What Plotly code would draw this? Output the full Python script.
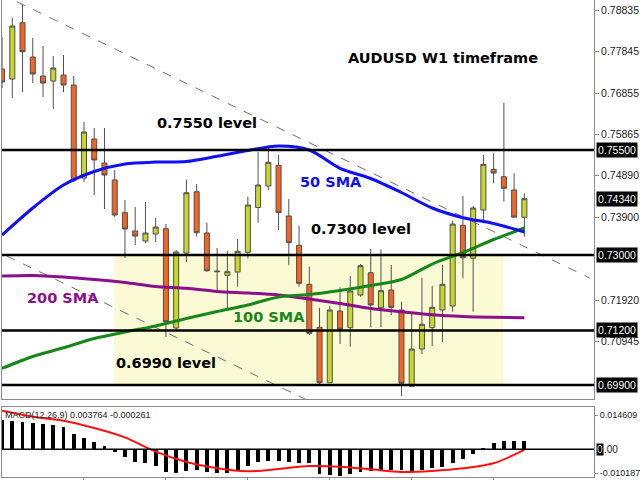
import plotly.graph_objects as go

# ---------------- data ----------------
candle_idx = list(range(52))
candle_open = [0.77430, 0.77192, 0.78534, 0.77716, 0.77264, 0.77144, 0.77287, 0.77049, 0.74833, 0.75762,
               0.75190, 0.74785, 0.74006, 0.73570, 0.73331, 0.73498, 0.73624, 0.71258, 0.73045, 0.74506,
               0.73522, 0.72616, 0.72514, 0.72592, 0.73062, 0.74130, 0.74642, 0.75135, 0.73927, 0.73229,
               0.72299, 0.71275, 0.69954, 0.71663, 0.71265, 0.72044, 0.72576, 0.71742, 0.72164, 0.71687,
               0.69869, 0.70757, 0.71265, 0.71687, 0.71782, 0.73705, 0.72919, 0.74070, 0.75040, 0.74864,
               0.74547, 0.73896]
candle_high = [0.78193, 0.78646, 0.78956, 0.78169, 0.77979, 0.77740, 0.77764, 0.77264, 0.76167, 0.76024,
               0.76024, 0.75023, 0.74308, 0.74142, 0.74261, 0.73879, 0.73736, 0.73117, 0.74785, 0.74690,
               0.73767, 0.73164, 0.73093, 0.73379, 0.74387, 0.75459, 0.75548, 0.75381, 0.74332, 0.73696,
               0.72719, 0.71735, 0.71782, 0.72228, 0.72497, 0.72783, 0.73141, 0.73133, 0.72759, 0.71885,
               0.71615, 0.72450, 0.72259, 0.72759, 0.73815, 0.74404, 0.74165, 0.75381, 0.75421, 0.76627,
               0.74945, 0.74468]
candle_low = [0.76978, 0.76739, 0.76882, 0.77097, 0.76763, 0.76477, 0.76882, 0.74737, 0.74737, 0.74428,
              0.74094, 0.73903, 0.72926, 0.73236, 0.73284, 0.73307, 0.71043, 0.71210, 0.72831, 0.73434,
              0.72600, 0.72123, 0.71687, 0.72242, 0.72919, 0.73767, 0.74547, 0.73593, 0.72759, 0.72242,
              0.71091, 0.69900, 0.69947, 0.70877, 0.70812, 0.72004, 0.71275, 0.71275, 0.71568, 0.69637,
              0.69859, 0.70638, 0.70829, 0.70924, 0.71646, 0.72442, 0.71646, 0.73753, 0.74706, 0.74268,
              0.73896, 0.73434]
candle_close = [0.77121, 0.78455, 0.77843, 0.77311, 0.77097, 0.77454, 0.77049, 0.74785, 0.75929, 0.75262,
                0.74904, 0.73951, 0.73617, 0.73450, 0.73522, 0.73665, 0.71408, 0.73069, 0.74482, 0.73529,
                0.72623, 0.72602, 0.72600, 0.73086, 0.74189, 0.74666, 0.75207, 0.74006, 0.73291, 0.72323,
                0.71132, 0.69954, 0.71687, 0.71227, 0.72140, 0.72743, 0.71806, 0.72147, 0.71751, 0.69940,
                0.70757, 0.71346, 0.71751, 0.72299, 0.73736, 0.72933, 0.74118, 0.75159, 0.74952, 0.74587,
                0.73900, 0.74340]

ma_idx = [0, 3, 6, 9, 12, 15, 18, 21, 24, 27, 30, 33, 36, 39, 42, 45, 48, 51]
sma50 = [0.73474, 0.74118, 0.74666, 0.74988, 0.75166, 0.75214, 0.75226, 0.75352, 0.75488, 0.75595,
         0.75500, 0.75064, 0.74821, 0.74487, 0.74118, 0.73887, 0.73748, 0.73546]
sma100 = [0.70297, 0.70579, 0.70786, 0.71008, 0.71163, 0.71306, 0.71484, 0.71651, 0.71806, 0.71997,
          0.72056, 0.72152, 0.72271, 0.72414, 0.72783, 0.73057, 0.73367, 0.73641]
sma200 = [0.72497, 0.72509, 0.72473, 0.72414, 0.72342, 0.72247, 0.72204, 0.72128, 0.72092, 0.72044,
          0.71949, 0.71842, 0.71723, 0.71646, 0.71573, 0.71532, 0.71513, 0.71503]

macd_hist = [0.01260, 0.01232, 0.01189, 0.01117, 0.01088, 0.01045, 0.00945, 0.00644, 0.00501, 0.00329,
             0.00143, -0.00100, -0.00315, -0.00530, -0.00601, -0.00702, -0.00959, -0.01002, -0.00916, -0.00888,
             -0.00959, -0.01002, -0.01031, -0.00916, -0.00716, -0.00530, -0.00487, -0.00487, -0.00530, -0.00601,
             -0.00601, -0.01060, -0.01103, -0.01146, -0.01060, -0.00959, -0.00916, -0.00931, -0.00888, -0.00888,
             -0.00916, -0.00888, -0.00816, -0.00745, -0.00573, -0.00430, -0.00200, 0.00072, 0.00258, 0.00372,
             0.00372, 0.003764]
macd_signal = [0.01661, 0.01403, 0.01232, 0.00916, 0.00516, -0.00100, -0.00544, -0.00816, -0.00945, -0.00845,
               -0.00716, -0.00745, -0.00859, -0.00974, -0.00931, -0.00816, -0.00601, -0.000261]

levels = [0.7550, 0.7300, 0.7120, 0.6990]
zone_bounds = [0.6990, 0.7300]
zone_idx = [10.95, 48.95]
trend1_idx = [1.46, 57.4]
trend1_price = [0.79034, 0.72447]
trend2_idx = [0.45, 31.05]
trend2_price = [0.72974, 0.69394]

price_ticks = [0.78835, 0.77845, 0.76855, 0.75865, 0.74890, 0.73900, 0.71920, 0.70945]
price_boxes = [0.75500, 0.74340, 0.73000, 0.71200, 0.69900]
macd_ticks = [0.014609, -0.010187]

# ---------------- style / layout ----------------
W, H = 640, 480
ML, MR, MT, MB = 2, 46, 0, 3
PW, PH = W - ML - MR, H - MT - MB


def pxx(x):
    return (x - ML) / PW


def pyy(y):
    return (H - MB - y) / PH


BULL = "#c5d62e"
BEAR = "#f26522"
OUTLINE = "#505050"
AXC = "#8a8a8a"
TICKFONT = dict(family="Liberation Sans", size=10.5, color="#222222")
MACDFONT = dict(family="Liberation Sans", size=9, color="#222222")
BOLD = "DejaVu Sans"

fig = go.Figure()

fig.add_trace(go.Candlestick(
    x=candle_idx, open=candle_open, high=candle_high, low=candle_low, close=candle_close,
    xaxis="x", yaxis="y", whiskerwidth=0,
    increasing=dict(fillcolor=BULL, line=dict(color=OUTLINE, width=1)),
    decreasing=dict(fillcolor=BEAR, line=dict(color=OUTLINE, width=1)),
    showlegend=False, hoverinfo="skip"))

for xs, ys in [(trend1_idx, trend1_price), (trend2_idx, trend2_price)]:
    fig.add_trace(go.Scatter(x=xs, y=ys, mode="lines", xaxis="x", yaxis="y",
                             line=dict(color="#707070", width=1, dash="dash"),
                             showlegend=False, hoverinfo="skip"))

for vals, col in [(sma200, "#8c0f8c"), (sma100, "#16881a"), (sma50, "#1010f0")]:
    fig.add_trace(go.Scatter(x=ma_idx, y=vals, mode="lines", xaxis="x", yaxis="y",
                             line=dict(color=col, width=3, shape="spline", smoothing=0.8),
                             showlegend=False, hoverinfo="skip"))

fig.add_trace(go.Bar(x=candle_idx, y=macd_hist, width=0.38, marker=dict(color="black", line=dict(width=0)),
                     xaxis="x2", yaxis="y2", showlegend=False, hoverinfo="skip"))
fig.add_trace(go.Scatter(x=ma_idx, y=macd_signal, mode="lines", xaxis="x2", yaxis="y2",
                         line=dict(color="#ff1010", width=2, shape="spline", smoothing=0.8),
                         showlegend=False, hoverinfo="skip"))

shapes = []
shapes.append(dict(type="rect", xref="x", yref="y", x0=zone_idx[0], x1=zone_idx[1],
                   y0=zone_bounds[0], y1=zone_bounds[1], fillcolor="#fafad4",
                   line=dict(width=0), layer="below"))
for lv in levels:
    shapes.append(dict(type="line", xref="x domain", yref="y", x0=0, x1=1, y0=lv, y1=lv,
                       line=dict(color="black", width=2.5)))
shapes.append(dict(type="line", xref="x2 domain", yref="y2", x0=0, x1=1, y0=0, y1=0,
                   line=dict(color="black", width=1.5)))

annotations = []


def label(text, x, y, color="black", size=14.5, anchor="center"):
    annotations.append(dict(text="<b>%s</b>" % text, x=pxx(x), y=pyy(y + 1), xref="paper", yref="paper",
                            xanchor=anchor, yanchor="middle", showarrow=False,
                            font=dict(family=BOLD, size=size, color=color)))


label("AUDUSD W1 timeframe", 442.5, 57)
label("0.7550 level", 207, 122)
label("50 SMA", 330.5, 181, color="#1010f0")
label("0.7300 level", 360.5, 228)
label("200 SMA", 63, 297, color="#8c0f8c")
label("100 SMA", 269, 316, color="#16881a")
label("0.6990 level", 166, 362)

annotations.append(dict(text="MACD(12,26,9) 0.003764 -0.000261", x=pxx(3), y=pyy(415), xref="paper",
                        yref="paper", xanchor="left", yanchor="middle", showarrow=False,
                        font=dict(family="Liberation Sans", size=9, color="#222222")))

for p in price_boxes:
    annotations.append(dict(text="%.5f" % p, x=1, xref="paper", y=p, yref="y", xanchor="left",
                            yanchor="middle", xshift=2, showarrow=False, bgcolor="black", borderpad=1,
                            font=dict(family="Liberation Sans", size=10.5, color="white")))
annotations.append(dict(text="0", x=1, xref="paper", y=0, yref="y2", xanchor="left", yanchor="middle",
                        xshift=2, showarrow=False, bgcolor="black", borderpad=0,
                        font=dict(family="Liberation Sans", size=10, color="#dddddd")))
annotations.append(dict(text=".00", x=1, xref="paper", y=0, yref="y2", xanchor="left", yanchor="middle",
                        xshift=8, showarrow=False,
                        font=dict(family="Liberation Sans", size=10, color="#222222")))

y_main_range = [0.69566, 0.79075]
y_macd_range = [-0.01189, 0.01819]
x_range = [-0.006, 57.8]

fig.update_layout(
    width=W, height=H, margin=dict(l=ML, r=MR, t=MT, b=MB, autoexpand=False),
    paper_bgcolor="white", plot_bgcolor="white", showlegend=False, hovermode=False,
    bargap=0,
    xaxis=dict(domain=[0, 1], anchor="y", range=x_range, showticklabels=False, ticks="",
               showgrid=False, zeroline=False, showline=True, linecolor=AXC, linewidth=1, mirror=True,
               rangeslider=dict(visible=False), automargin=False),
    yaxis=dict(domain=[pyy(399), 1], anchor="x", side="right", range=y_main_range,
               tickmode="array", tickvals=price_ticks, ticktext=["%.5f" % t for t in price_ticks],
               tickfont=TICKFONT, ticks="outside", ticklen=4, tickcolor=AXC, automargin=False,
               showgrid=False, zeroline=False, showline=True, linecolor=AXC, linewidth=1, mirror=True),
    xaxis2=dict(domain=[0, 1], anchor="y2", range=x_range, matches="x", showticklabels=False,
                tickmode="array", tickvals=[8, 16, 24, 32, 40, 48], ticks="outside", ticklen=3,
                tickcolor=AXC, showgrid=False, zeroline=False, showline=True, linecolor=AXC,
                linewidth=1, mirror=True, rangeslider=dict(visible=False), automargin=False),
    yaxis2=dict(domain=[0, pyy(407)], anchor="x2", side="right", range=y_macd_range,
                tickmode="array", tickvals=macd_ticks, ticktext=["%.6f" % t for t in macd_ticks],
                tickfont=MACDFONT, ticks="outside", ticklen=3, tickcolor=AXC, automargin=False,
                showgrid=False, zeroline=False, showline=True, linecolor=AXC, linewidth=1, mirror=True),
    shapes=shapes, annotations=annotations,
)

fig.write_html("out.html", config={"displayModeBar": False},
               post_script="document.body.style.margin='0';document.body.style.padding='0';"
                           "document.body.style.overflow='hidden';")
